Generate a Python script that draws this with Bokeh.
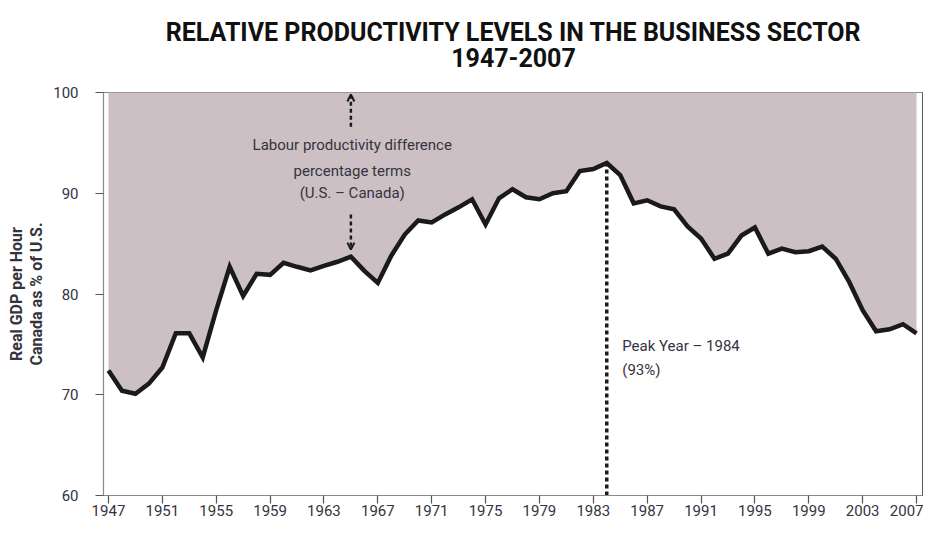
from bokeh.plotting import figure
from bokeh.models import Range1d, FixedTicker, LinearAxis, Title, Label, Arrow, OpenHead
from bokeh.embed import file_html
from bokeh.resources import INLINE

years = list(range(1947, 2008))
ratio = [72.4, 70.4, 70.1, 71.1, 72.7, 76.1, 76.1, 73.7, 78.4, 82.7,
         79.8, 82.0, 81.9, 83.1, 82.7, 82.35, 82.8, 83.2, 83.7, 82.3,
         81.1, 83.8, 85.9, 87.3, 87.1, 87.9, 88.6, 89.4, 86.9, 89.5,
         90.4, 89.6, 89.4, 90.0, 90.2, 92.2, 92.4, 93.0, 91.8, 89.0,
         89.3, 88.7, 88.4, 86.7, 85.5, 83.5, 84.0, 85.8, 86.6, 84.0,
         84.5, 84.15, 84.25, 84.7, 83.5, 81.2, 78.4, 76.3, 76.5, 77.0, 76.1]
x_ticks = [1947, 1951, 1955, 1959, 1963, 1967, 1971, 1975, 1979, 1983,
           1987, 1991, 1995, 1999, 2003, 2007]
y_ticks = [60, 70, 80, 90, 100]
parity = 100
peak_year = 1984
peak_value = 93.0
gap_year = 1965

title_main = "RELATIVE PRODUCTIVITY LEVELS IN THE BUSINESS SECTOR"
title_sub = "1947-2007"
ylab1 = "Real GDP per Hour"
ylab2 = "Canada as % of U.S."
gap_lines = ["Labour productivity difference", "percentage terms", "(U.S. \u2013 Canada)"]
peak_lines = ["Peak Year \u2013 1984", "(93%)"]

FONT = "Roboto"
TXT = "#34343e"

p = figure(width=923, height=518, output_backend="svg", toolbar_location=None,
           x_range=Range1d(1946.63, 2007.52), y_range=Range1d(60, 100),
           min_border_left=0, min_border_right=0, min_border_top=0,
           min_border_bottom=0)
p.grid.visible = False
p.outline_line_color = "#8a8a8a"
p.outline_line_width = 1
p.background_fill_color = "white"

# shaded gap between Canada and U.S. parity
p.varea(x=years, y1=ratio, y2=[parity] * len(years), fill_color="#cdc0c5", fill_alpha=1)
p.line(years, ratio, line_width=4.5, line_color="#1a1a1a", line_join="miter")

# peak marker
p.segment(x0=[peak_year], y0=[60], x1=[peak_year], y1=[peak_value],
          line_color="#1a1a1a", line_width=3.5, line_dash="4 3")

# arrows
p.add_layout(Arrow(end=OpenHead(size=7, line_width=2, line_color="#1a1a1a"),
                   x_start=gap_year, y_start=96.6, x_end=gap_year, y_end=99.8,
                   line_width=2.5, line_dash="4 3", line_color="#1a1a1a"))
p.add_layout(Arrow(end=OpenHead(size=7, line_width=2, line_color="#1a1a1a"),
                   x_start=gap_year, y_start=87.9, x_end=gap_year, y_end=84.4,
                   line_width=2.5, line_dash="4 3", line_color="#1a1a1a"))

for t, yy in zip(gap_lines, [94.8, 92.25, 90.0]):
    p.add_layout(Label(x=gap_year + 0.1, y=yy, text=t, text_align="center",
                       text_baseline="middle", text_font=FONT,
                       text_font_size="15px", text_color=TXT))
for t, yy in zip(peak_lines, [74.8, 72.45]):
    p.add_layout(Label(x=peak_year + 1.15, y=yy, text=t, text_align="left",
                       text_baseline="middle", text_font=FONT,
                       text_font_size="15px", text_color=TXT))

# axes
for ax in (p.xaxis[0], p.yaxis[0]):
    ax.axis_line_color = "#8a8a8a"
    ax.axis_line_width = 1.2
    ax.major_tick_line_color = "#555555"
    ax.major_tick_line_width = 1.2
    ax.major_tick_in = 0
    ax.minor_tick_line_color = None
    ax.major_label_text_font = FONT
    ax.major_label_text_font_size = "15px"
    ax.major_label_text_color = TXT
p.xaxis[0].ticker = FixedTicker(ticks=x_ticks)
p.yaxis[0].ticker = FixedTicker(ticks=y_ticks)
p.xaxis[0].major_tick_out = 8
p.yaxis[0].major_tick_out = 8
p.xaxis[0].major_label_standoff = 1
p.yaxis[0].major_label_standoff = 17

right = LinearAxis(ticker=FixedTicker(ticks=[]), axis_line_color="#111111",
                   axis_line_width=1.8, major_tick_line_color=None,
                   minor_tick_line_color=None, major_label_standoff=0,
                   major_tick_out=0, major_tick_in=0)
p.add_layout(right, "right")

# y axis label (two lines)
ytitle = Title(text=ylab1 + "\n" + ylab2, align="center", text_font=FONT,
               text_font_size="16px", text_font_style="bold", text_color=TXT,
               text_line_height=1.1, standoff=8)
# titles
ttitle = Title(text=title_main + "\n" + title_sub, align="center", text_font=FONT,
               text_font_size="25px", text_font_style="bold", text_color="#111111",
               text_line_height=0.92, standoff=34, vertical_align="top")
for t in (ytitle, ttitle):
    try:
        t.text_align = "center"
    except Exception:
        pass
try:
    ttitle.offset = -32
except Exception:
    pass
p.add_layout(ytitle, "left")
p.add_layout(ttitle, "above")

open("out.html", "w").write(file_html(p, INLINE))
